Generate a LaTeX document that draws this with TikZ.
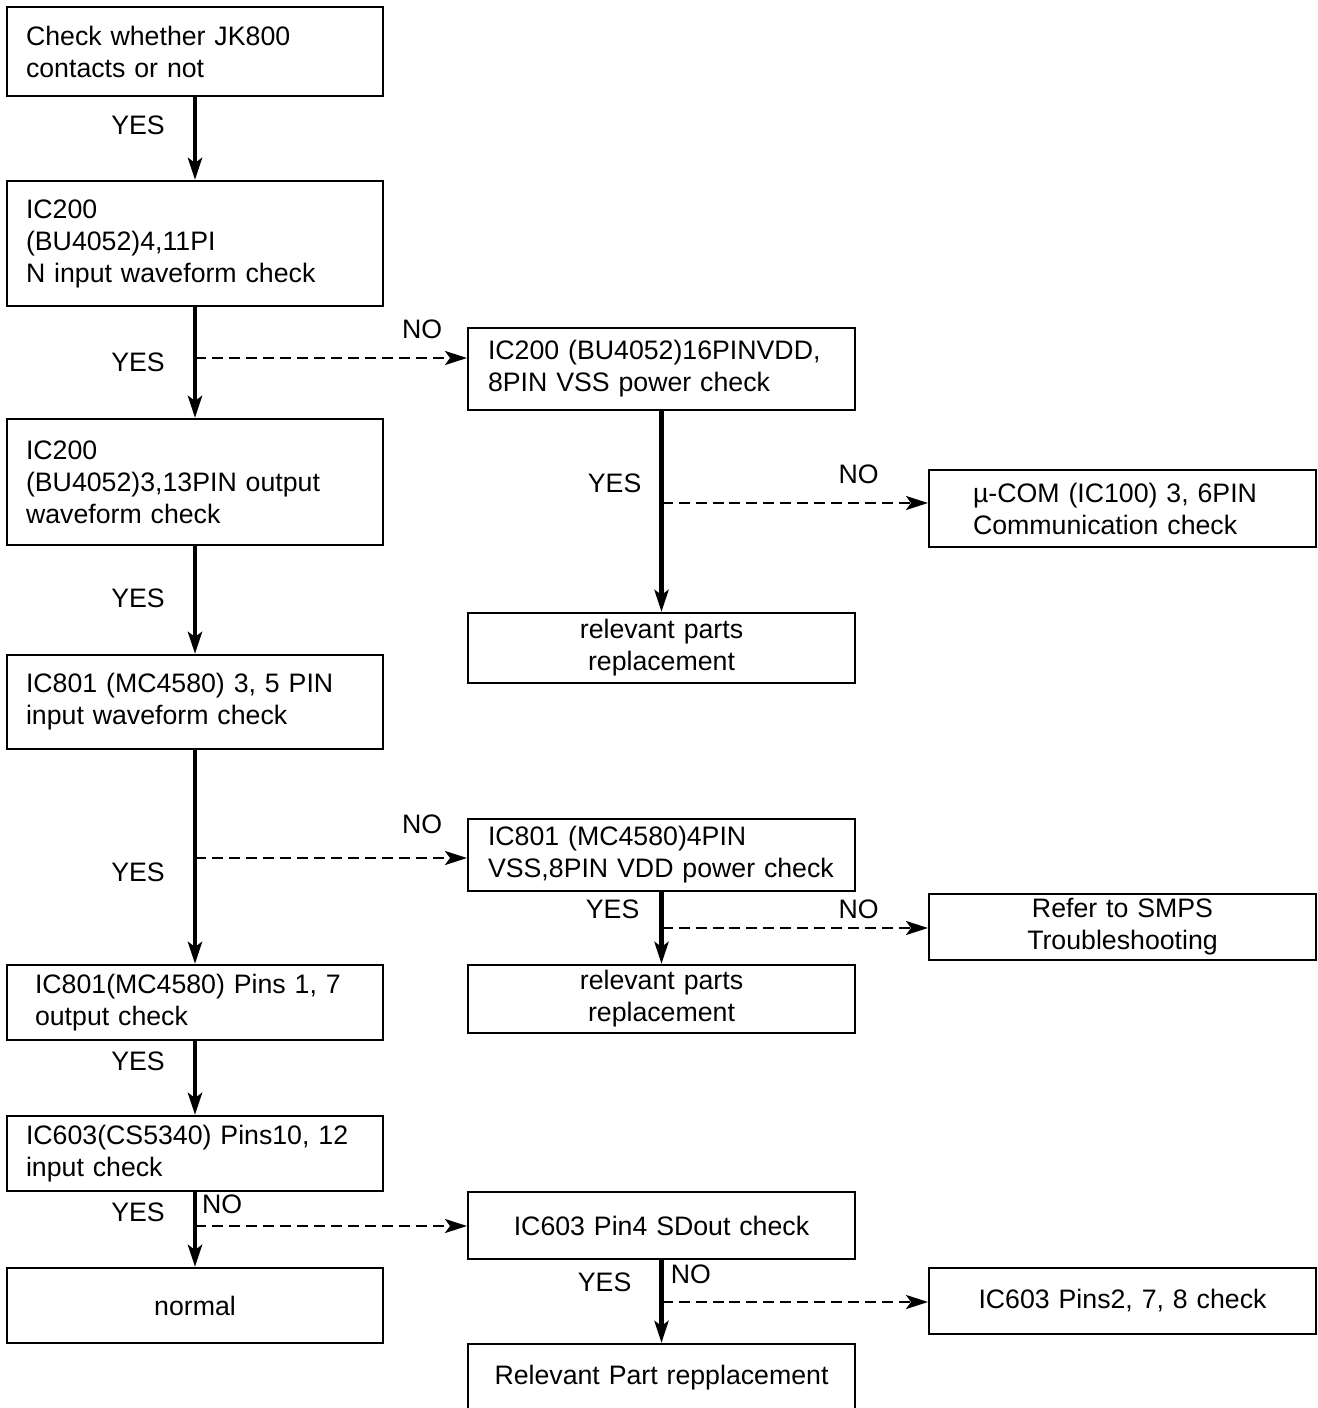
\documentclass[tikz,border=0pt]{standalone}
\usepackage{fontspec}
\setmainfont{Liberation Sans}
\usetikzlibrary{arrows.meta,positioning}
\newcommand{\chartfont}{\fontsize{15.2pt}{18.2pt}\selectfont}

\begin{document}
\begin{tikzpicture}[x=0.02cm, y=0.02cm]

\tikzstyle{box1}=[rectangle, draw, line width=1.2pt, text width=6.76cm, inner xsep=0.38cm, inner ysep=0pt, align=left, font=\chartfont]
\tikzstyle{box2}=[rectangle, draw, line width=1.2pt, text width=6.94cm, inner xsep=0.4cm, inner ysep=0pt, align=left, font=\chartfont]
\tikzstyle{box3}=[rectangle, draw, line width=1.2pt, text width=6.94cm, inner xsep=0.4cm, inner ysep=0pt, align=center, font=\chartfont]
\tikzstyle{arrow}=[-{Stealth[length=0.44cm, width=0.28cm, inset=0.1cm]}, line width=2.5pt]
\tikzstyle{dasharrow}=[-{Stealth[length=0.44cm, width=0.28cm, inset=0.1cm]}, line width=1.3pt, dash pattern=on 0.22cm off 0.12cm]
\tikzstyle{txt}=[inner sep=0pt, font=\chartfont]

\useasboundingbox (0,0) rectangle (1317,-1408);

\node (A) [box1, minimum height=1.78cm] at (195,-51.5) {Check whether JK800\\contacts or not};
\node (B) [box1, minimum height=2.5cm] at (195,-243.5) {IC200\\(BU4052)4,11PI\\N input waveform check};
\node (C) [box1, minimum height=2.52cm] at (195,-482) {IC200\\(BU4052)3,13PIN output\\waveform check};
\node (D) [box1, minimum height=1.88cm] at (195,-702) {IC801 (MC4580) 3, 5 PIN\\input waveform check};
\node (E) [box1, minimum height=1.5cm, inner xsep=0.56cm, text width=6.4cm] at (195,-1002.5) {IC801(MC4580) Pins 1, 7\\output check};
\node (F) [box1, minimum height=1.5cm] at (195,-1153.5) {IC603(CS5340) Pins10, 12\\input check};
\node (G) [box1, minimum height=1.5cm, align=center] at (195,-1305.5) {normal};

\node (H) [box2, minimum height=1.64cm] at (661.5,-369) {IC200 (BU4052)16PINVDD,\\8PIN VSS power check};
\node (I) [box3, minimum height=1.4cm] at (661.5,-648) {relevant parts\\replacement};
\node (J) [box2, minimum height=1.44cm] at (661.5,-855) {IC801 (MC4580)4PIN\\VSS,8PIN VDD power check};
\node (K) [box3, minimum height=1.36cm] at (661.5,-999) {relevant parts\\replacement};
\node (L) [box3, minimum height=1.34cm] at (661.5,-1225.5) {IC603 Pin4 SDout check};
\node (M) [box3, minimum height=1.36cm] at (661.5,-1378) {Relevant Part repplacement};

\node (N) [box2, minimum height=1.54cm, inner xsep=0.88cm, text width=5.98cm] at (1122.5,-508.5) {µ-COM (IC100) 3, 6PIN\\Communication check};
\node (O) [box3, minimum height=1.32cm] at (1122.5,-927) {Refer to SMPS\\Troubleshooting};
\node (P) [box3, minimum height=1.32cm] at (1122.5,-1301) {IC603 Pins2, 7, 8 check};

% YES branches
\draw [arrow] (A) -- node[txt, left=0.56cm, pos=0.34] {YES} (B);
\draw [arrow] (B) -- node[txt, left=0.56cm, pos=0.5] {YES} (C);
\draw [arrow] (C) -- node[txt, left=0.56cm, pos=0.48] {YES} (D);
\draw [arrow] (D) -- node[txt, left=0.56cm, pos=0.57] {YES} (E);
\draw [arrow] (E) -- node[txt, left=0.56cm, pos=0.28] {YES} (F);
\draw [arrow] (F) -- node[txt, left=0.56cm, pos=0.27] {YES} (G);
\draw [arrow] (H) -- node[txt, left=0.36cm, pos=0.36] {YES} (I);
\draw [arrow] (J) -- node[txt, left=0.4cm, pos=0.24] {YES} (K);
\draw [arrow] (L) -- node[txt, left=0.56cm, pos=0.27] {YES} (M);

% NO branches
\coordinate (n1) at (195,-358);
\coordinate (n2) at (661.5,-503);
\coordinate (n3) at (195,-858);
\coordinate (n4) at (661.5,-928);
\coordinate (n5) at (195,-1226);
\coordinate (n6) at (661.5,-1302);

\draw [dasharrow] (n1) -- node[txt, above=0.36cm, pos=0.835] {NO} (n1 -| H.west);
\draw [dasharrow] (n2) -- node[txt, above=0.36cm, pos=0.74] {NO} (n2 -| N.west);
\draw [dasharrow] (n3) -- node[txt, above=0.46cm, pos=0.835] {NO} (n3 -| J.west);
\draw [dasharrow] (n4) -- node[txt, above=0.16cm, pos=0.74] {NO} (n4 -| O.west);
\draw [dasharrow] (n5) -- node[txt, above=0.22cm, pos=0.1] {NO} (n5 -| L.west);
\draw [dasharrow] (n6) -- node[txt, above=0.34cm, pos=0.11] {NO} (n6 -| P.west);

\end{tikzpicture}
\end{document}
